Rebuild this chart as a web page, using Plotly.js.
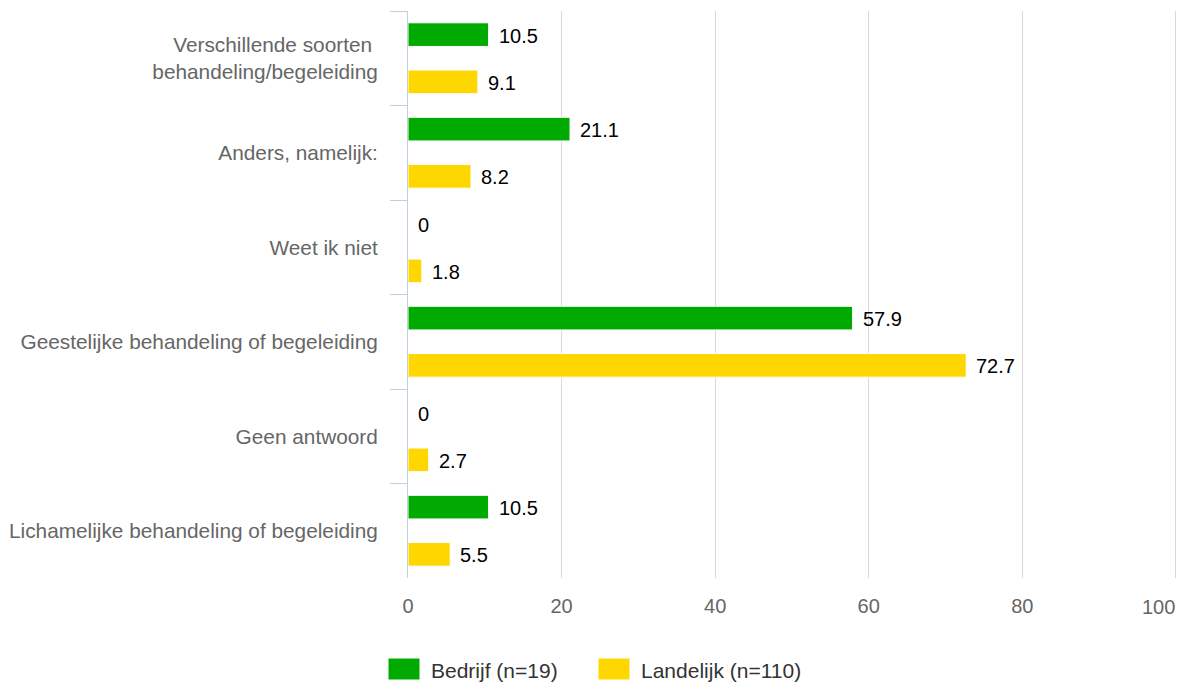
<!DOCTYPE html>
<html>
<head>
<meta charset="utf-8">
<script src="https://cdn.plot.ly/plotly-3.0.1.min.js"></script>
<style>
  html, body { margin: 0; padding: 0; background: #ffffff; }
  #chart { width: 1181px; height: 686px; }
</style>
</head>
<body>
<div id="chart"></div>
<script>
// ---- data ----
var categories = [
  "Verschillende soorten <br>behandeling/begeleiding",
  "Anders, namelijk:",
  "Weet ik niet",
  "Geestelijke behandeling of begeleiding",
  "Geen antwoord",
  "Lichamelijke behandeling of begeleiding"
];
var bedrijf = [10.5, 21.1, 0, 57.9, 0, 10.5];
var landelijk = [9.1, 8.2, 1.8, 72.7, 2.7, 5.5];
var seriesNames = ["Bedrijf (n=19)", "Landelijk (n=110)"];
var xTicks = [0, 20, 40, 60, 80, 100];

// ---- styles ----
var colors = ["#00AA00", "#FFD700"];
var FONT = "Liberation Sans, Arial, sans-serif";
var W = 1181, H = 686;
var M = {l: 408, r: 4, t: 11, b: 108};
var plotW = W - M.l - M.r, plotH = H - M.t - M.b;
function px2x(px) { return (px - M.l) / plotW; }
function px2y(py) { return (H - M.b - py) / plotH; }

var bargap = 0, bargroupgap = 0.5;
var offset = (1 - bargap) / 4;

var seriesValues = [bedrijf, landelijk];
var traces = seriesValues.map(function (vals, k) {
  return {
    type: "bar",
    orientation: "h",
    name: seriesNames[k],
    y: categories,
    x: vals,
    marker: {color: colors[k], line: {color: "#ffffff", width: 1}},
    showlegend: false,
    hoverinfo: "none"
  };
});

var annotations = [];
seriesValues.forEach(function (vals, k) {
  vals.forEach(function (v, i) {
    annotations.push({
      x: v, y: i + (k === 0 ? -offset : offset),
      xref: "x", yref: "y",
      text: String(v),
      showarrow: false,
      xanchor: "left", yanchor: "middle",
      xshift: 8, yshift: -1,
      font: {family: FONT, size: 20, color: "#000000"}
    });
  });
});

// last x tick label is pushed inside the chart (right aligned at its gridline)
var lastTick = xTicks[xTicks.length - 1];
annotations.push({
  x: lastTick, y: px2y(607),
  xref: "x", yref: "paper",
  text: String(lastTick), showarrow: false,
  xanchor: "right", yanchor: "middle",
  xshift: 1,
  font: {family: FONT, size: 20, color: "#666666"}
});

// custom legend
var shapes = [];
var legendItems = [
  {sw: [388, 420], tx: 429},
  {sw: [598, 630], tx: 639}
];
legendItems.forEach(function (it, k) {
  shapes.push({
    type: "rect", xref: "paper", yref: "paper",
    x0: px2x(it.sw[0]), x1: px2x(it.sw[1]),
    y0: px2y(680), y1: px2y(658),
    fillcolor: colors[k], line: {color: "#ffffff", width: 1}
  });
  annotations.push({
    x: px2x(it.tx), y: px2y(670),
    xref: "paper", yref: "paper",
    text: seriesNames[k], showarrow: false,
    xanchor: "left", yanchor: "middle",
    font: {family: FONT, size: 21, color: "#333333"}
  });
});

var layout = {
  width: W, height: H,
  margin: M,
  paper_bgcolor: "#ffffff",
  plot_bgcolor: "#ffffff",
  font: {family: FONT, size: 20, color: "#666666"},
  barmode: "group",
  bargap: bargap,
  bargroupgap: bargroupgap,
  showlegend: false,
  xaxis: {
    range: [0, 100.15],
    tickvals: xTicks,
    ticktext: xTicks.map(function (t, i) { return i === xTicks.length - 1 ? "" : String(t); }),
    showgrid: true,
    gridcolor: "#D8D8D8",
    gridwidth: 1,
    zeroline: false,
    showline: false,
    ticks: "",
    ticklabelstandoff: 14,
    tickfont: {family: FONT, size: 20, color: "#666666"},
    fixedrange: true
  },
  yaxis: {
    type: "category",
    range: [categories.length - 0.5, -0.5],
    showline: true,
    linecolor: "#C0D0E0",
    linewidth: 1,
    ticks: "outside",
    tickson: "boundaries",
    ticklen: 17,
    tickcolor: "#C0D0E0",
    tickwidth: 1,
    showgrid: false,
    zeroline: false,
    ticklabelstandoff: 25,
    tickfont: {family: FONT, size: 20.8, color: "#666666"},
    fixedrange: true
  },
  annotations: annotations,
  shapes: shapes
};

Plotly.newPlot("chart", traces, layout, {displayModeBar: false, staticPlot: true});
</script>
</body>
</html>
